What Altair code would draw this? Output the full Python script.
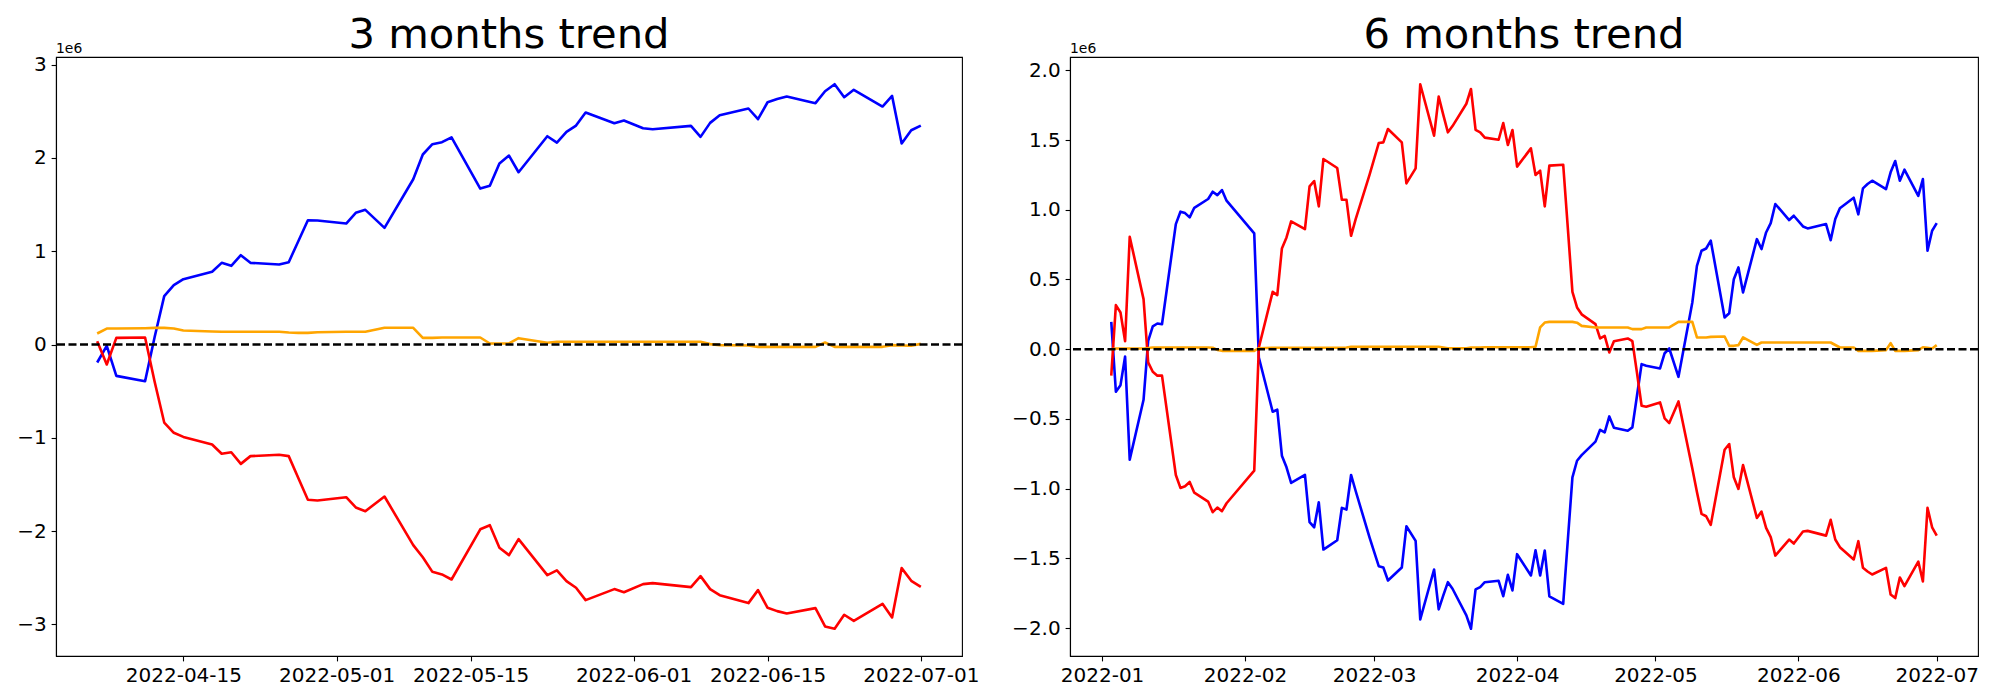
import altair as alt
import pandas as pd

# Korean exchange holidays (no trading) in the period
KRX_HOLIDAYS = ["2022-01-31", "2022-02-01", "2022-02-02", "2022-03-01",
                "2022-03-09", "2022-05-05", "2022-06-01", "2022-06-06"]

dates_3m = pd.bdate_range("2022-04-06", "2022-07-01", freq="C", holidays=KRX_HOLIDAYS)
dates_6m = pd.bdate_range("2022-01-03", "2022-07-01", freq="C", holidays=KRX_HOLIDAYS)

# ---- 3 months (values in units of 1e6) ----
blue_3m = [
    -0.193, -0.014, -0.336, -0.393, 0.08, 0.518, 0.636, 0.70, 0.779, 0.875, 0.843, 0.957, 0.875, 0.857, 0.882, 1.107, 1.332, 1.329,
    1.296, 1.411, 1.443, 1.25, 1.771, 2.036, 2.146, 2.168, 2.22, 1.671, 1.70, 1.939, 2.025, 1.846, 2.232, 2.164, 2.279, 2.346, 2.486, 2.371, 2.40,
    2.318, 2.307, 2.343, 2.225, 2.375, 2.457, 2.529, 2.414, 2.596, 2.63, 2.657, 2.586, 2.714, 2.789, 2.65, 2.729, 2.55, 2.664, 2.154, 2.296,
    2.346,
]
red_3m = [
    0.036, -0.214, 0.071, 0.075, -0.40, -0.836, -0.946, -0.99, -1.071, -1.171, -1.154, -1.279, -1.196, -1.182, -1.196, -1.43, -1.664, -1.671,
    -1.636, -1.746, -1.786, -1.629, -2.15, -2.28, -2.436, -2.464, -2.518, -1.98, -1.936, -2.177, -2.257, -2.086, -2.471, -2.421, -2.536, -2.607, -2.739, -2.621, -2.654,
    -2.568, -2.557, -2.6, -2.482, -2.621, -2.686, -2.771, -2.632, -2.821, -2.857, -2.882, -2.825, -3.021, -3.046, -2.896, -2.961, -2.779, -2.925, -2.396, -2.532,
    -2.596,
]
orange_3m = [
    0.118, 0.171, 0.171, 0.175, 0.178, 0.178, 0.171, 0.15, 0.14, 0.136, 0.136, 0.136, 0.136, 0.136, 0.129, 0.125, 0.125, 0.132,
    0.136, 0.136, 0.136, 0.179, 0.179, 0.071, 0.071, 0.075, 0.075, 0.075, 0.011, 0.011, 0.011, 0.068, 0.018, 0.029, 0.029, 0.029, 0.029, 0.029, 0.029,
    0.029, 0.029, 0.029, 0.029, 0.004, -0.007, -0.011, -0.025, -0.025, -0.025, -0.025, -0.025, 0.021, -0.025, -0.025, -0.025, -0.025, -0.007, -0.011, -0.014,
    0.007,
]

# ---- 6 months (values in units of 1e6) ----
blue_6m = [
    0.196, -0.305, -0.258, -0.053, -0.792, -0.363, 0.06, 0.163, 0.184, 0.179, 0.897, 0.986, 0.976, 0.945, 1.014, 1.077, 1.129, 1.105, 1.141, 1.065,
    0.83, -0.06, -0.449, -0.434, -0.764, -0.847, -0.959, -0.902, -1.241, -1.277, -1.098, -1.437, -1.37, -1.138, -1.15, -0.902, -1.017, -1.35,
    -1.556, -1.566, -1.659, -1.566, -1.27, -1.375, -1.938, -1.58, -1.866, -1.766, -1.671, -1.718, -1.909, -2.005, -1.723, -1.706, -1.671, -1.661, -1.771, -1.618, -1.73,
    -1.47, -1.623, -1.442, -1.623, -1.444, -1.773, -1.826, -1.37, -0.919, -0.8, -0.76, -0.663, -0.578, -0.597, -0.482, -0.563, -0.585, -0.561, -0.334, -0.107, -0.119,
    -0.138, -0.029, 0.005, -0.198, 0.335, 0.598, 0.706, 0.722, 0.778, 0.227, 0.258, 0.502, 0.586, 0.407, 0.789, 0.718, 0.837, 0.904, 1.041, 0.926, 0.957,
    0.88, 0.866, 0.897, 0.782, 0.933, 1.01, 1.086, 0.967, 1.153, 1.184, 1.208, 1.148, 1.268, 1.349, 1.208, 1.287, 1.1, 1.22, 0.706, 0.849,
    0.904,
]
red_6m = [
    -0.19, 0.316, 0.263, 0.057, 0.806, 0.359, -0.095, -0.162, -0.19, -0.19, -0.902, -0.995, -0.983, -0.952, -1.029, -1.093, -1.169, -1.136, -1.162, -1.105,
    -0.871, 0.012, 0.411, 0.388, 0.722, 0.801, 0.916, 0.861, 1.167, 1.206, 1.024, 1.364, 1.299, 1.072, 1.072, 0.813, 0.933, 1.25,
    1.478, 1.483, 1.579, 1.483, 1.189, 1.297, 1.9, 1.531, 1.811, 1.68, 1.555, 1.60, 1.76, 1.866, 1.572, 1.555, 1.517, 1.502, 1.622, 1.464, 1.572,
    1.309, 1.44, 1.249, 1.28, 1.024, 1.316, 1.323, 0.87, 0.411, 0.299, 0.25, 0.18, 0.077, 0.096, -0.024, 0.057, 0.077, 0.057, -0.17, -0.406, -0.413,
    -0.382, -0.496, -0.53, -0.375, -0.855, -1.024, -1.181, -1.198, -1.26, -0.721, -0.68, -0.919, -1.002, -0.831, -1.21, -1.165, -1.282, -1.348, -1.48, -1.365, -1.394,
    -1.308, -1.303, -1.337, -1.224, -1.365, -1.42, -1.508, -1.377, -1.568, -1.594, -1.616, -1.568, -1.759, -1.785, -1.637, -1.699, -1.523, -1.666, -1.138, -1.277,
    -1.337,
]
orange_6m = [
    0.0, 0.005, 0.005, 0.005, 0.005, 0.005, 0.008, 0.012, 0.012, 0.012, 0.012, 0.012, 0.012, 0.012, 0.012, 0.012, 0.01, -0.005, -0.012, -0.012,
    -0.012, 0.007, 0.01, 0.01, 0.01, 0.01, 0.01, 0.01, 0.01, 0.01, 0.01, 0.01, 0.01, 0.01, 0.012, 0.017, 0.017, 0.017,
    0.017, 0.017, 0.017, 0.017, 0.017, 0.017, 0.017, 0.017, 0.017, 0.012, 0.007, 0.007, 0.007, 0.012, 0.012, 0.012, 0.014, 0.014, 0.014, 0.014, 0.014,
    0.014, 0.014, 0.017, 0.156, 0.191, 0.196, 0.196, 0.196, 0.196, 0.19, 0.167, 0.156, 0.156, 0.156, 0.156, 0.156, 0.156, 0.144, 0.144, 0.144, 0.156,
    0.156, 0.156, 0.156, 0.196, 0.196, 0.084, 0.084, 0.084, 0.088, 0.091, 0.024, 0.024, 0.029, 0.084, 0.031, 0.048, 0.048, 0.048, 0.048, 0.048, 0.048,
    0.048, 0.048, 0.048, 0.048, 0.03, 0.012, 0.012, -0.012, -0.012, -0.012, -0.012, -0.007, 0.043, -0.012, -0.012, -0.012, -0.007, 0.014, 0.01, 0.005,
    0.029,
]

titles = ["3 months trend", "6 months trend"]
xticks_3m = ["2022-04-15", "2022-05-01", "2022-05-15", "2022-06-01", "2022-06-15", "2022-07-01"]
xticks_6m = ["2022-01-01", "2022-02-01", "2022-03-01", "2022-04-01", "2022-05-01", "2022-06-01", "2022-07-01"]
yticks_3m = [-3, -2, -1, 0, 1, 2, 3]
yticks_6m = [-2.0, -1.5, -1.0, -0.5, 0.0, 0.5, 1.0, 1.5, 2.0]

SERIES = [("blue", "#0000ff"), ("red", "#ff0000"), ("orange", "#ffa500")]
FONT = "DejaVu Sans"
LW = 2.6


def ms(ts):
    return int(pd.Timestamp(ts).value // 1_000_000)


def frame(dates, blue, red, orange):
    rows = []
    for name, vals in (("blue", blue), ("red", red), ("orange", orange)):
        for d, v in zip(dates, vals):
            rows.append({"t": ms(d), "v": v, "s": name})
    return pd.DataFrame(rows)


def panel(df, title, xticks, xfmt, yticks, yfmt, width):
    tmin, tmax = df["t"].min(), df["t"].max()
    xspan = tmax - tmin
    xdom = [tmin - 0.05 * xspan, tmax + 0.05 * xspan]
    vmin, vmax = df["v"].min(), df["v"].max()
    yspan = vmax - vmin
    ydom = [vmin - 0.05 * yspan, vmax + 0.05 * yspan]

    x = alt.X("t:T", title=None,
              scale=alt.Scale(type="utc", domain=xdom, nice=False),
              axis=alt.Axis(values=[ms(t) for t in xticks],
                            labelExpr=f"utcFormat(datum.value, '{xfmt}')",
                            labelFlush=False, labelOverlap=False))
    y = alt.Y("v:Q", title=None,
              scale=alt.Scale(domain=ydom, nice=False, zero=False),
              axis=alt.Axis(values=yticks, format=yfmt, labelOverlap=False, labelFlush=False))

    layers = []
    for name, col in SERIES:
        layers.append(
            alt.Chart(df).transform_filter(alt.datum.s == name)
            .mark_line(color=col, strokeWidth=LW, strokeJoin="round")
            .encode(x=x, y=y)
        )
    one = pd.DataFrame({"z": [0.0], "title": [title]})
    zero = alt.Chart(one).mark_rule(
        color="black", strokeWidth=LW, strokeDash=[8, 3.5]
    ).encode(y=alt.Y("z:Q"))
    offset = alt.Chart(one).mark_text(
        text="1e6", align="left", baseline="alphabetic", fontSize=13.9, font=FONT, color="black"
    ).encode(x=alt.value(0), y=alt.value(-4))
    ttl = alt.Chart(one).mark_text(
        align="center", baseline="alphabetic", fontSize=41.7, font=FONT, color="black"
    ).encode(x=alt.value(width / 2), y=alt.value(-9), text="title:N")
    layers += [zero, offset, ttl]
    return alt.layer(*layers).properties(width=width, height=599)


df3 = frame(dates_3m, blue_3m, red_3m, orange_3m)
df6 = frame(dates_6m, blue_6m, red_6m, orange_6m)

left = panel(df3, titles[0], xticks_3m, "%Y-%m-%d", yticks_3m, "d", 906)
right = panel(df6, titles[1], xticks_6m, "%Y-%m", yticks_6m, ".1f", 908)

chart = (
    alt.hconcat(left, right, spacing=108, bounds="flush")
    .properties(padding={"left": 8, "top": 6, "right": 5, "bottom": 5})
    .configure(font=FONT)
    .configure_view(stroke="black", strokeWidth=1.1)
    .configure_axis(
        grid=False, domainColor="black", domainWidth=1.1, tickColor="black", tickWidth=1.1,
        tickSize=4.9, labelFontSize=20, labelFont=FONT, labelColor="black", labelPadding=4.9,
    )
)

chart.save("out.html", embed_options={"renderer": "svg", "actions": False})
